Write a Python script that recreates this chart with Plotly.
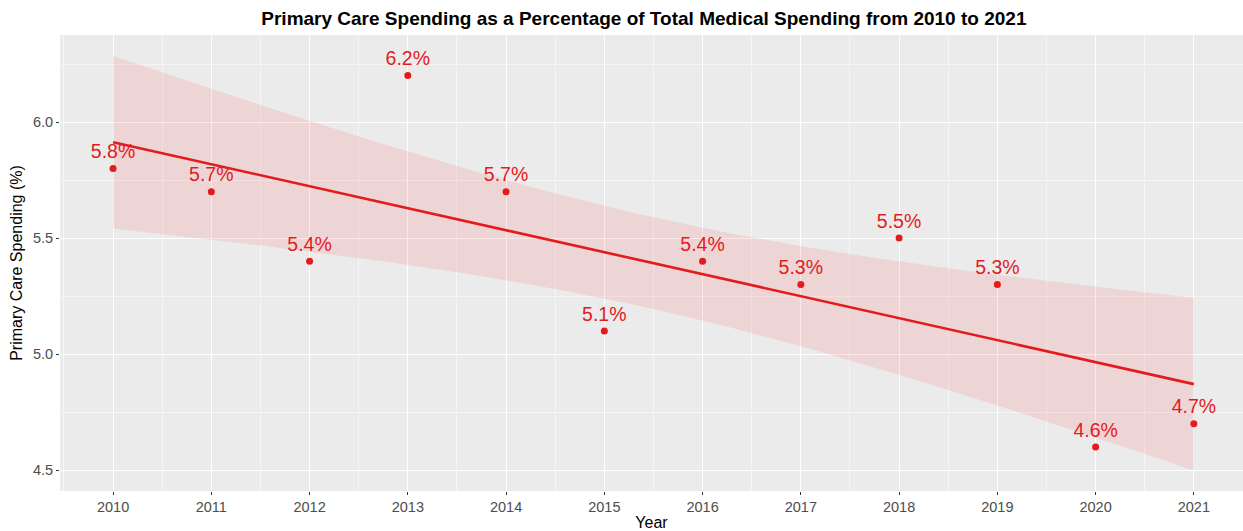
import numpy as np
import plotly.graph_objects as go

# Primary care share of total medical spending by year
years = [2010, 2011, 2012, 2013, 2014, 2015, 2016, 2017, 2018, 2019, 2020, 2021]
spending_pct = [5.8, 5.7, 5.4, 6.2, 5.7, 5.1, 5.4, 5.3, 5.5, 5.3, 4.6, 4.7]
labels = [f"{v:.1f}%" for v in spending_pct]
year_ticks = years
y_ticks = [4.5, 5.0, 5.5, 6.0]

RED = "#e41a1c"
FONT = "Arial, Liberation Sans, sans-serif"

# Linear fit with 95% confidence band of the mean (like geom_smooth(method="lm"))
x = np.array(years, dtype=float)
y = np.array(spending_pct, dtype=float)
n = len(x)
slope, intercept = np.polyfit(x, y, 1)
resid = y - (intercept + slope * x)
s = np.sqrt(np.sum(resid ** 2) / (n - 2))
t_crit = 2.228  # t(0.975, df=10)
xs = np.linspace(x.min(), x.max(), 80)
fit = intercept + slope * xs
se = s * np.sqrt(1 / n + (xs - x.mean()) ** 2 / np.sum((x - x.mean()) ** 2))
lower = fit - t_crit * se
upper = fit + t_crit * se

fig = go.Figure()
fig.add_trace(go.Scatter(x=xs, y=upper, mode="lines", line=dict(width=0),
                         hoverinfo="skip", showlegend=False))
fig.add_trace(go.Scatter(x=xs, y=lower, mode="lines", line=dict(width=0),
                         fill="tonexty", fillcolor="rgba(255,60,70,0.13)",
                         hoverinfo="skip", showlegend=False))
fig.add_trace(go.Scatter(x=xs, y=fit, mode="lines",
                         line=dict(color=RED, width=2.6), showlegend=False))
fig.add_trace(go.Scatter(x=years, y=spending_pct, mode="markers+text",
                         marker=dict(color=RED, size=7),
                         text=labels, textposition="top center",
                         textfont=dict(family=FONT, size=19.5, color=RED),
                         showlegend=False))

fig.update_layout(
    width=1243, height=531,
    margin=dict(l=60, r=0, t=35, b=40),
    paper_bgcolor="white",
    plot_bgcolor="#ebebeb",
    font=dict(family=FONT),
    title=dict(text="<b>Primary Care Spending as a Percentage of Total Medical Spending from 2010 to 2021</b>",
               x=0.518, xanchor="center", y=0.965, yanchor="middle",
               font=dict(size=19, color="#000000", family=FONT)),
    xaxis=dict(range=[2009.46, 2021.5], tickvals=year_ticks,
               ticktext=[str(v) for v in year_ticks],
               showgrid=True, gridcolor="white", gridwidth=1.2,
               minor=dict(dtick=0.5, tick0=2009.5, showgrid=True,
                          gridcolor="#f5f5f5", gridwidth=0.6),
               ticks="outside", ticklen=3, tickcolor="#333333",
               tickfont=dict(size=14.5, color="#4d4d4d"),
               zeroline=False, showline=False,
               title=dict(text="Year", font=dict(size=16, color="#000000"), standoff=4)),
    yaxis=dict(range=[4.41, 6.375], tickvals=y_ticks,
               ticktext=[f"{v:.1f}" for v in y_ticks],
               showgrid=True, gridcolor="white", gridwidth=1.2,
               minor=dict(dtick=0.25, tick0=4.25, showgrid=True,
                          gridcolor="#f5f5f5", gridwidth=0.6),
               ticks="outside", ticklen=3, tickcolor="#333333",
               tickfont=dict(size=14.5, color="#4d4d4d"),
               zeroline=False, showline=False,
               title=dict(text="Primary Care Spending (%)",
                          font=dict(size=16, color="#000000"), standoff=6)),
)

fig.write_html("out.html")
